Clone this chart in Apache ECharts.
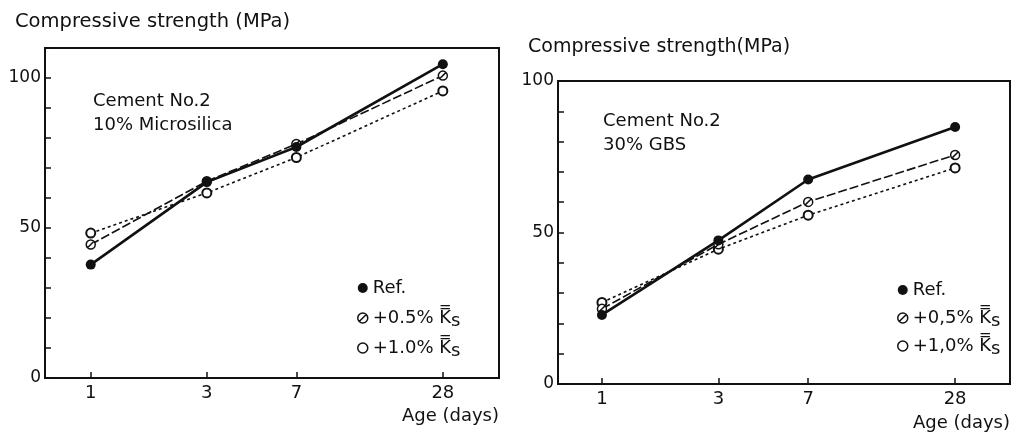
<!DOCTYPE html>
<html>
<head>
<meta charset="utf-8">
<script src="https://cdn.jsdelivr.net/npm/echarts@6/dist/echarts.min.js"></script>
<style>
  html, body { margin: 0; padding: 0; background: #fff; }
  #chart { width: 1016px; height: 439px; }
</style>
</head>
<body>
<div id="chart"></div>
<script>
// age in days, shown on a log scale
const days = [1, 3, 7, 28];
const strengthLabels = [0, 50, 100];

// left panel: cement no.2 + 10% microsilica
const microRef = [37.8, 65.3, 77.0, 104.6];
const microKs05 = [44.5, 65.6, 78.0, 100.8];
const microKs10 = [48.3, 61.7, 73.5, 95.7];

// right panel: cement no.2 + 30% GBS
const gbsRef = [22.8, 47.4, 67.5, 84.8];
const gbsKs05 = [24.8, 46.1, 60.1, 75.6];
const gbsKs10 = [26.9, 44.5, 55.7, 71.3];

const FONT = 'DejaVu Sans';
const INK = '#111';
const slashCircle = 'path://M10,1A9,9,0,1,1,10,19A9,9,0,1,1,10,1ZM3.6,16.4L16.4,3.6';

const toPoints = arr => days.map((d, i) => [Math.log10(d), arr[i]]);

function xAxis(gridIndex, min, max) {
    return {
        type: 'value', gridIndex: gridIndex, min: min, max: max,
        axisLine: { onZero: false, lineStyle: { color: INK, width: 2 } },
        axisTick: { inside: true, length: 6, lineStyle: { color: INK, width: 1.5 },
            customValues: days.map(d => Math.log10(d)) },
        axisLabel: { margin: 6, fontSize: 18, fontFamily: FONT, color: INK,
            customValues: days.map(d => Math.log10(d)),
            formatter: v => String(Math.round(Math.pow(10, v))) },
        splitLine: { show: false }
    };
}

function yAxis(gridIndex, max) {
    return {
        type: 'value', gridIndex: gridIndex, min: 0, max: max, interval: 10,
        axisLine: { show: true, onZero: false, lineStyle: { color: INK, width: 2 } },
        axisTick: { show: true, inside: true, length: 6, lineStyle: { color: INK, width: 1.5 } },
        axisLabel: { margin: 4, fontSize: 17, fontFamily: FONT, color: INK,
            customValues: strengthLabels.filter(v => v <= max) },
        splitLine: { show: false }
    };
}

function series(name, arr, idx, kind) {
    const s = { name: name, type: 'line', xAxisIndex: idx, yAxisIndex: idx,
        data: toPoints(arr), animation: false };
    if (kind === 'ref') {
        s.symbol = 'circle'; s.symbolSize = 10; s.z = 5;
        s.itemStyle = { color: INK };
        s.lineStyle = { color: INK, width: 2.6 };
    } else if (kind === 'k05') {
        s.symbol = slashCircle; s.symbolSize = 9; s.z = 4;
        s.itemStyle = { color: '#fff', borderColor: INK, borderWidth: 1.5 };
        s.lineStyle = { color: INK, width: 1.6, type: [9, 3] };
    } else {
        s.symbol = 'emptyCircle'; s.symbolSize = 9; s.z = 3;
        s.itemStyle = { color: INK, borderWidth: 1.5 };
        s.lineStyle = { color: INK, width: 1.6, type: [3, 3] };
    }
    return s;
}

function legend(names, left, top, gap) {
    return {
        orient: 'vertical', left: left, top: top, itemGap: gap,
        itemWidth: 10, itemHeight: 10, selectedMode: false,
        data: [
            { name: names[0], icon: 'circle', itemStyle: { color: INK } },
            { name: names[1], icon: slashCircle, itemStyle: { color: '#fff', borderColor: INK, borderWidth: 1.5 } },
            { name: names[2], icon: 'circle', itemStyle: { color: '#fff', borderColor: INK, borderWidth: 1.5 } }
        ],
        formatter: n => n.indexOf('%') < 0 ? n : '{t|' + n + ' }{k|K\u033F}{s|s}',
        textStyle: { fontSize: 18, fontFamily: FONT, color: INK, lineHeight: 24,
            rich: {
                t: { fontSize: 18, fontFamily: FONT, color: INK, lineHeight: 24 },
                k: { fontSize: 18, fontFamily: FONT, color: INK, lineHeight: 24 },
                s: { fontSize: 18, fontFamily: FONT, color: INK, lineHeight: 16, verticalAlign: 'bottom' }
            } }
    };
}

function label(text, x, y, size) {
    return { type: 'text', left: x, top: y,
        style: { text: text, fontSize: size, fontFamily: FONT, fill: INK, lineHeight: 24 } };
}

const chart = echarts.init(document.getElementById('chart'));
chart.setOption({
    backgroundColor: '#fff',
    animation: false,
    grid: [
        { left: 45, top: 48, width: 454, height: 330, show: true, borderColor: INK, borderWidth: 2 },
        { left: 558, top: 81, width: 452, height: 303, show: true, borderColor: INK, borderWidth: 2 }
    ],
    xAxis: [xAxis(0, -0.188, 1.678), xAxis(1, -0.180, 1.672)],
    yAxis: [yAxis(0, 110), yAxis(1, 100)],
    legend: [
        legend(['Ref.', '+0.5%', '+1.0%'], 352, 271, 6),
        legend(['Ref.', '+0,5%', '+1,0%'], 892, 273, 4)
    ],
    series: [
        series('+1.0%', microKs10, 0, 'k10'),
        series('+0.5%', microKs05, 0, 'k05'),
        series('Ref.', microRef, 0, 'ref'),
        series('+1,0%', gbsKs10, 1, 'k10'),
        series('+0,5%', gbsKs05, 1, 'k05'),
        series('Ref.', gbsRef, 1, 'ref')
    ],
    graphic: [
        label('Compressive strength (MPa)', 15, 10, 19.5),
        label('Cement No.2\n10% Microsilica', 93, 89, 18),
        { type: 'text', right: 517, top: 407,
          style: { text: 'Age (days)', fontSize: 18, fontFamily: FONT, fill: INK } },
        label('Compressive strength(MPa)', 528, 35, 19),
        label('Cement No.2\n30% GBS', 603, 109, 18),
        { type: 'text', right: 6, top: 414,
          style: { text: 'Age (days)', fontSize: 18, fontFamily: FONT, fill: INK } }
    ]
});
</script>
</body>
</html>
